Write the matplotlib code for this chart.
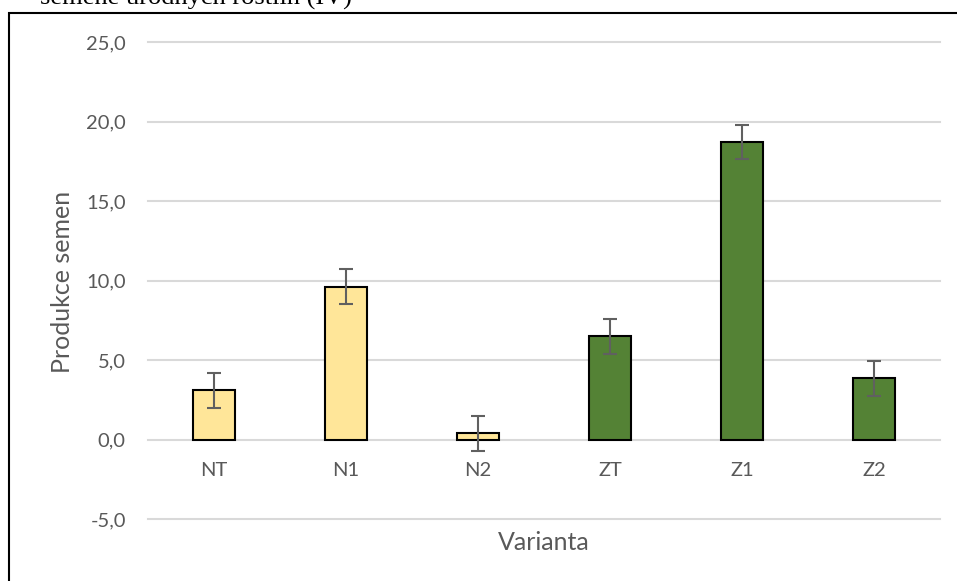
import matplotlib
matplotlib.use("Agg")
import matplotlib.pyplot as plt
from matplotlib.patches import Rectangle
from matplotlib.ticker import FuncFormatter

#data
varianty = ["NT", "N1", "N2", "ZT", "Z1", "Z2"]
produkce = [3.1, 9.6, 0.4, 6.5, 18.7, 3.85]
chyba = [1.1, 1.1, 1.1, 1.1, 1.05, 1.1]
barvy = ["#FFE699", "#FFE699", "#FFE699", "#548235", "#548235", "#548235"]
yticks = [-5, 0, 5, 10, 15, 20, 25]

plt.rcParams['font.family'] = ['Lato', 'DejaVu Sans']

fig = plt.figure(figsize=(9.57, 5.81), dpi=100)
ax = fig.add_axes([148/957, 1-519/581, (940-148)/957, (519-42)/581])

x = list(range(len(varianty)))
ax.bar(x, produkce, width=0.32, color=barvy, edgecolor="black", linewidth=1.5, zorder=3)
ax.errorbar(x, produkce, yerr=chyba, fmt="none", ecolor="#606060", elinewidth=1.5,
            capsize=5, capthick=1.5, zorder=4)

ax.set_xlim(-0.5, 5.5)
ax.set_ylim(-5, 25)
ax.set_yticks(yticks)
ax.yaxis.set_major_formatter(FuncFormatter(lambda v, p: ("%.1f" % v).replace(".", ",")))
for yy in yticks:
    ax.axhline(yy, color="#D9D9D9", linewidth=1.5, zorder=1, clip_on=False)

# osa x na nule
ax.spines['bottom'].set_position(('data', 0))
for s in ax.spines.values():
    s.set_visible(False)
ax.set_xticks(x)
ax.set_xticklabels(varianty)
ax.tick_params(axis="x", length=0, pad=16, labelsize=14.5, labelcolor="#595959")
ax.tick_params(axis="y", length=0, pad=16, labelsize=14.5, labelcolor="#595959")

fig.text(544/957, 1-543/581, "Varianta", ha="center", va="center", fontsize=18, color="#595959")
fig.text(62/957, 1-282/581, "Produkce semen", ha="center", va="center", rotation=90,
         fontsize=18, color="#595959")

# ramecek grafu
fig.patches.append(Rectangle((9/957, -0.05), 1.1, 1-13/581+0.05, transform=fig.transFigure,
                             fill=False, edgecolor="black", linewidth=1.5))
# text nad grafem (orizly)
fig.text(352/957, 1-5/581, "semene úrodných rostlin (IV)", ha="right", va="baseline",
         fontsize=19, family="Liberation Serif", color="black")

plt.savefig("out.png", dpi=100)
